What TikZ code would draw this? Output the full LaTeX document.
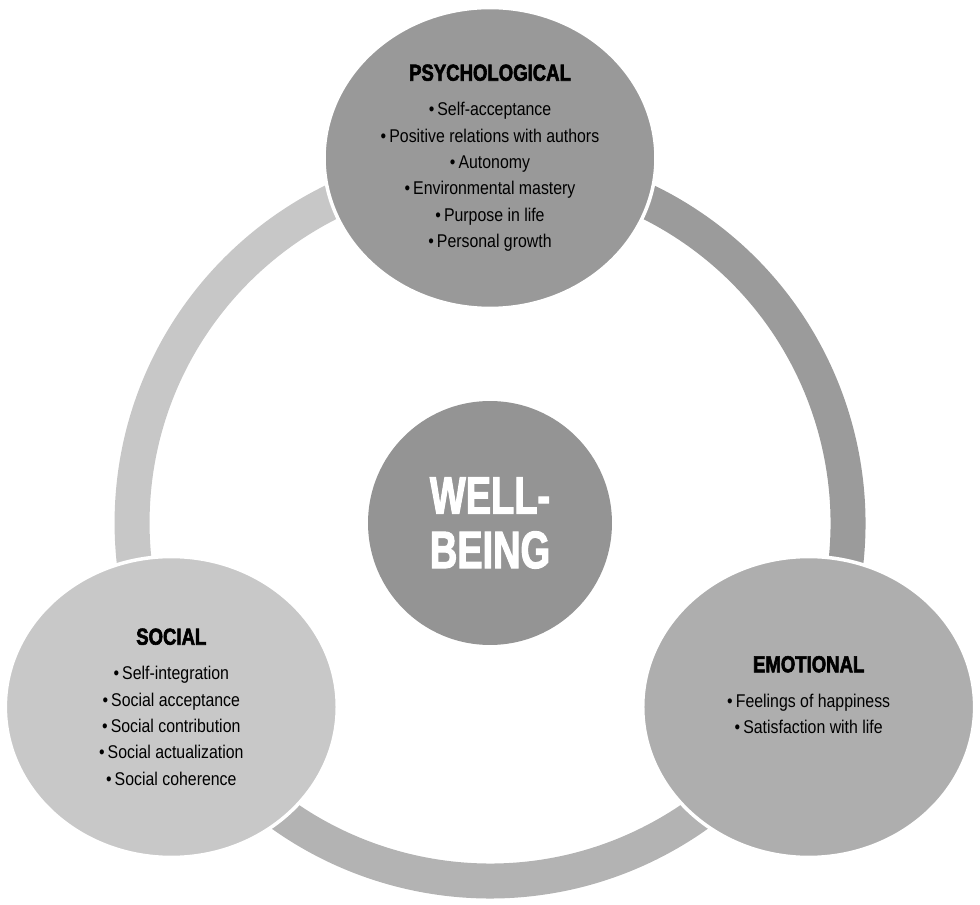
\documentclass[tikz,border=0pt]{standalone}
\usepackage{fontspec}
\setmainfont{Liberation Sans}[FakeStretch=0.86]
\newfontfamily\headfont{Liberation Sans}[FakeStretch=0.8, BoldFeatures={FakeBold=2.5}]
\newfontfamily\bigfont{Liberation Sans}[FakeStretch=0.72, BoldFeatures={FakeBold=2}]
\usepackage{tikz}
\usetikzlibrary{shapes.geometric, positioning}

\definecolor{psyfill}{HTML}{999999}
\definecolor{socfill}{HTML}{C8C8C8}
\definecolor{emofill}{HTML}{AEAEAE}
\definecolor{corefill}{HTML}{949494}
\definecolor{ringleft}{HTML}{C7C7C7}
\definecolor{ringright}{HTML}{9B9B9B}
\definecolor{ringbottom}{HTML}{B3B3B3}

\newcommand{\pillarhead}[1]{{\headfont\bfseries\fontsize{13.2}{15}\selectfont #1}}

\begin{document}
\begin{tikzpicture}[
    x=0.02cm, y=0.02cm,
    % --- ring and circle styles ---
    ringseg/.style={draw=#1, line width=0.7cm},
    pillar/.style={
        ellipse, fill=#1, draw=white, line width=2pt,
        minimum width=6.64cm, minimum height=6.02cm, inner sep=0pt
    },
    corenode/.style={
        circle, fill=corefill, minimum size=4.88cm, inner sep=0pt,
        align=center, text=white, font=\bigfont\bfseries\fontsize{30}{31}\selectfont
    },
    pillartxt/.style={align=center, font=\fontsize{10.5}{15}\selectfont, text=black},
]

\useasboundingbox (-490,-382) rectangle (490,523);

% ---- Ring segments ----
\draw[ringseg=ringleft]   (90:358)  arc[start angle=90,  end angle=210, radius=7.16cm];
\draw[ringseg=ringbottom] (210:358) arc[start angle=210, end angle=330, radius=7.16cm];
\draw[ringseg=ringright]  (330:358) arc[start angle=330, end angle=450, radius=7.16cm];

% ---- Circles ----
\node[corenode] (core) at (0,0) {WELL-\\BEING};

\node[pillar=psyfill] (psy) at (90:365) {};
\node[pillar=socfill] (soc) at (210:368) {};
\node[pillar=emofill] (emo) at (330:368) {};

% ---- Texts ----
\node[pillartxt] (psytxt) at (psy) {\pillarhead{PSYCHOLOGICAL}\\[5pt]
    •\,Self-acceptance\\ •\,Positive relations with authors\\ •\,Autonomy\\
    •\,Environmental mastery\\ •\,Purpose in life\\ •\,Personal growth};

\node[pillartxt] (soctxt) at (soc) {\pillarhead{SOCIAL}\\[5pt]
    •\,Self-integration\\ •\,Social acceptance\\ •\,Social contribution\\
    •\,Social actualization\\ •\,Social coherence};

\node[pillartxt, yshift=0.24cm] (emotxt) at (emo) {\pillarhead{EMOTIONAL}\\[5pt]
    •\,Feelings of happiness\\ •\,Satisfaction with life};

\end{tikzpicture}
\end{document}
